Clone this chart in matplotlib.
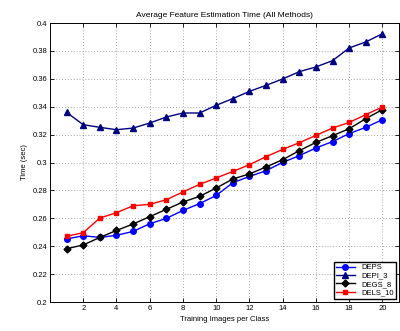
import matplotlib
matplotlib.use("Agg")
import matplotlib.pyplot as plt
import numpy as np

x = list(range(1, 21))
deps = [0.2452, 0.2475, 0.2463, 0.2478, 0.2506, 0.2561, 0.2599, 0.2657, 0.2705, 0.2764,
        0.2855, 0.2900, 0.2941, 0.3001, 0.3049, 0.3104, 0.3150, 0.3207, 0.3252, 0.3307]
depi3 = [0.3359, 0.3271, 0.3252, 0.3235, 0.3247, 0.3283, 0.3326, 0.3355, 0.3355, 0.3410,
         0.3458, 0.3510, 0.3553, 0.3599, 0.3651, 0.3685, 0.3730, 0.3821, 0.3864, 0.3923]
degs8 = [0.2382, 0.2409, 0.2463, 0.2513, 0.2559, 0.2612, 0.2664, 0.2717, 0.2757, 0.2817,
         0.2882, 0.2918, 0.2968, 0.3020, 0.3085, 0.3144, 0.3192, 0.3242, 0.3314, 0.3379]
dels10 = [0.2471, 0.2497, 0.2602, 0.2640, 0.2690, 0.2700, 0.2733, 0.2789, 0.2843, 0.2889,
          0.2936, 0.2984, 0.3042, 0.3094, 0.3142, 0.3194, 0.3247, 0.3287, 0.3343, 0.3398]
xticks = list(range(2, 21, 2))
yticks = [0.2, 0.22, 0.24, 0.26, 0.28, 0.3, 0.32, 0.34, 0.36, 0.38, 0.4]
ytick_labels = ["0.2", "0.22", "0.24", "0.26", "0.28", "0.3", "0.32", "0.34", "0.36", "0.38", "0.4"]

plt.rcParams['font.family'] = ['Liberation Sans', 'DejaVu Sans']
fig = plt.figure(figsize=(4.0, 3.31), dpi=100)
ax = fig.add_axes([0.125, 0.0876, 0.8725, 0.8429])

lw = 1.0
ax.plot(x, deps, '-o', color='#0000ff', lw=lw, ms=4, label='DEPS')
ax.plot(x, depi3, '-^', color='#000080', lw=lw, ms=4.5, label='DEPI_3')
ax.plot(x, degs8, '-D', color='black', lw=lw, ms=3.5, label='DEGS_8')
ax.plot(x, dels10, '-s', color='#ff0000', lw=lw, ms=3.5, label='DELS_10')

ax.set_xlim(0, 21)
ax.set_ylim(0.2, 0.4)
ax.set_xticks(xticks)
ax.set_yticks(yticks)
ax.set_yticklabels(ytick_labels)
ax.tick_params(direction='in', top=True, right=True, labelsize=5.5, length=3, width=0.6, pad=2)
ax.grid(True, linestyle=(0, (1, 2.5)), color='#888888', linewidth=0.6)
for s in ax.spines.values():
    s.set_linewidth(0.7)

ax.set_title('Average Feature Estimation Time (All Methods)', fontsize=6, pad=4)
ax.set_xlabel('Training Images per Class', fontsize=5.5, labelpad=3)
ax.set_ylabel('Time (sec)', fontsize=5.5, labelpad=3)

leg = ax.legend(loc='lower right', fontsize=5.5, fancybox=False, framealpha=1,
                edgecolor='black', borderpad=0.3, labelspacing=0.15, handlelength=2.5,
                borderaxespad=0.4)
leg.get_frame().set_linewidth(1.0)

fig.savefig('out.png', dpi=100)
